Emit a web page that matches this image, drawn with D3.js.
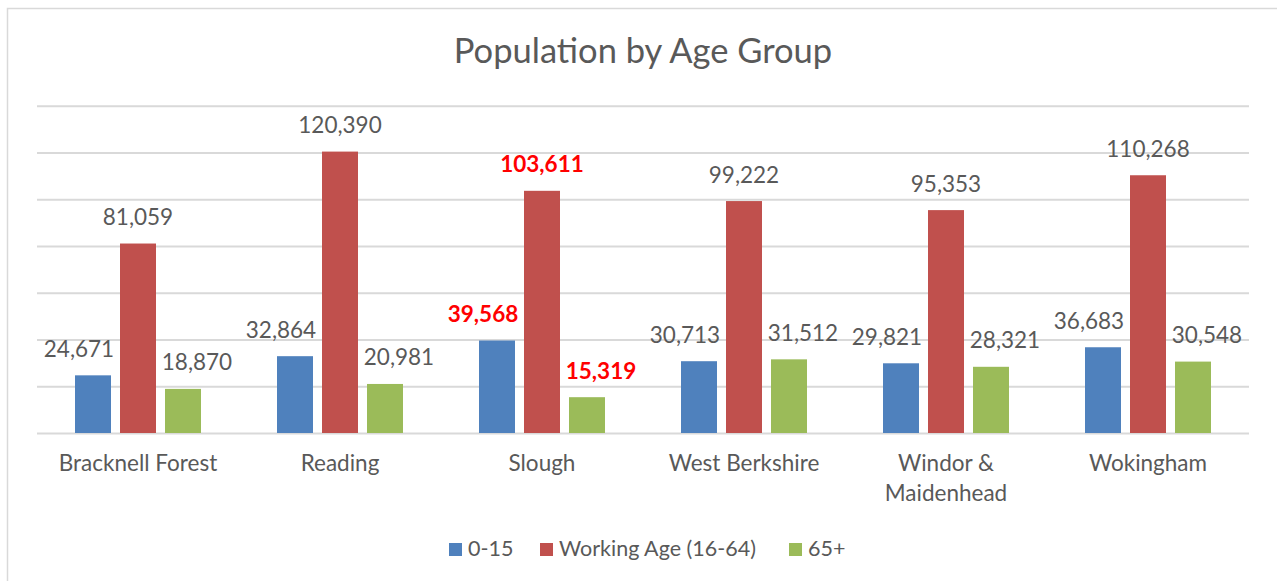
<!DOCTYPE html>
<html>
<head>
<meta charset="utf-8">
<script src="https://cdn.jsdelivr.net/npm/d3@7"></script>
<style>
  body { margin: 0; background: #fff; }
  text { font-family: Lato, "Open Sans", sans-serif; fill: #595959; }
</style>
</head>
<body>
<svg id="svgMain" width="1277" height="581"></svg>
<script>
// data
const areas = ["Bracknell Forest", "Reading", "Slough", "West Berkshire", "Windor & Maidenhead", "Wokingham"];
const areaLines = [["Bracknell Forest"], ["Reading"], ["Slough"], ["West Berkshire"], ["Windor &", "Maidenhead"], ["Wokingham"]];
const groups = ["0-15", "Working Age (16-64)", "65+"];
const young = [24671, 32864, 39568, 30713, 29821, 36683];
const working = [81059, 120390, 103611, 99222, 95353, 110268];
const older = [18870, 20981, 15319, 31512, 28321, 30548];
const highlightArea = "Slough";
const yTicks = [0, 20000, 40000, 60000, 80000, 100000, 120000, 140000];

const colors = ["#4F81BD", "#C0504D", "#9BBB59"];
const labelShift = [-14, 0, 14];

let svgMain = d3.select("#svgMain");
let svgWidth = +svgMain.attr("width");
let svgHeight = +svgMain.attr("height");
const margin = { top: 105.75, right: 28, bottom: 148, left: 37 };
const plotWidth = svgWidth - margin.left - margin.right;
const plotHeight = svgHeight - margin.top - margin.bottom;

// chart frame
svgMain.append("rect")
    .attr("x", 7.5).attr("y", 8.5)
    .attr("width", 1300).attr("height", 600)
    .attr("fill", "none")
    .attr("stroke", "#D9D9D9")
    .attr("stroke-width", 1.5);

// title
svgMain.append("text")
    .attr("x", 643)
    .attr("y", 63)
    .attr("font-size", "34.5px")
    .attr("text-anchor", "middle")
    .text("Population by Age Group");

const series = [young, working, older];
const rows = [];
areas.forEach((a, i) => {
    groups.forEach((g, j) => {
        rows.push({ area: a, group: g, gi: j, value: series[j][i] });
    });
});

const xScale = d3.scaleBand().domain(areas).range([0, plotWidth]).paddingInner(0).paddingOuter(0);
const xInner = d3.scaleBand().domain(groups).range([38, xScale.bandwidth() - 38]).paddingInner(0.2);
const yScale = d3.scaleLinear().domain([0, 140000]).range([plotHeight, 0]);

const plot = svgMain.append("g")
    .attr("transform", "translate(" + margin.left + "," + margin.top + ")");

// gridlines
let yGrid = d3.axisLeft(yScale).tickValues(yTicks).tickSize(-plotWidth).tickFormat("");
plot.append("g")
    .attr("class", "y gridlines")
    .call(yGrid)
    .call(g => g.select(".domain").remove())
    .call(g => g.selectAll("line").attr("stroke", "#D9D9D9").attr("stroke-width", 2));

// bars
plot.selectAll("rect.bar")
    .data(rows)
    .enter().append("rect")
    .attr("class", "bar")
    .attr("x", d => xScale(d.area) + xInner(d.group))
    .attr("y", d => yScale(d.value))
    .attr("width", xInner.bandwidth())
    .attr("height", d => plotHeight - yScale(d.value))
    .attr("fill", d => colors[d.gi]);

// data labels
const fmt = d3.format(",");
plot.selectAll("text.lbl")
    .data(rows)
    .enter().append("text")
    .attr("class", "lbl")
    .attr("x", d => xScale(d.area) + xInner(d.group) + xInner.bandwidth() / 2 + labelShift[d.gi])
    .attr("y", d => yScale(d.value) - 18.5)
    .attr("text-anchor", "middle")
    .attr("font-size", "22.5px")
    .style("fill", d => d.area === highlightArea ? "#FF0000" : null)
    .style("font-weight", d => d.area === highlightArea ? "bold" : null)
    .text(d => fmt(d.value));

// x axis labels
const xAxisG = plot.append("g")
    .attr("transform", "translate(0," + plotHeight + ")");
areas.forEach((a, i) => {
    const t = xAxisG.append("text")
        .attr("x", xScale(a) + xScale.bandwidth() / 2)
        .attr("y", 38)
        .attr("text-anchor", "middle")
        .attr("font-size", "22.5px");
    areaLines[i].forEach((ln, k) => {
        t.append("tspan")
            .attr("x", xScale(a) + xScale.bandwidth() / 2)
            .attr("dy", k === 0 ? 0 : 29.5)
            .text(ln);
    });
});

// legend
const legendX = [449, 540, 789];
const legend = svgMain.append("g").attr("class", "legend");
groups.forEach((g, i) => {
    legend.append("rect")
        .attr("x", legendX[i]).attr("y", 543)
        .attr("width", 13).attr("height", 13)
        .attr("fill", colors[i]);
    legend.append("text")
        .attr("x", legendX[i] + 19)
        .attr("y", 556)
        .attr("font-size", "21.5px")
        .text(g);
});
</script>
</body>
</html>
